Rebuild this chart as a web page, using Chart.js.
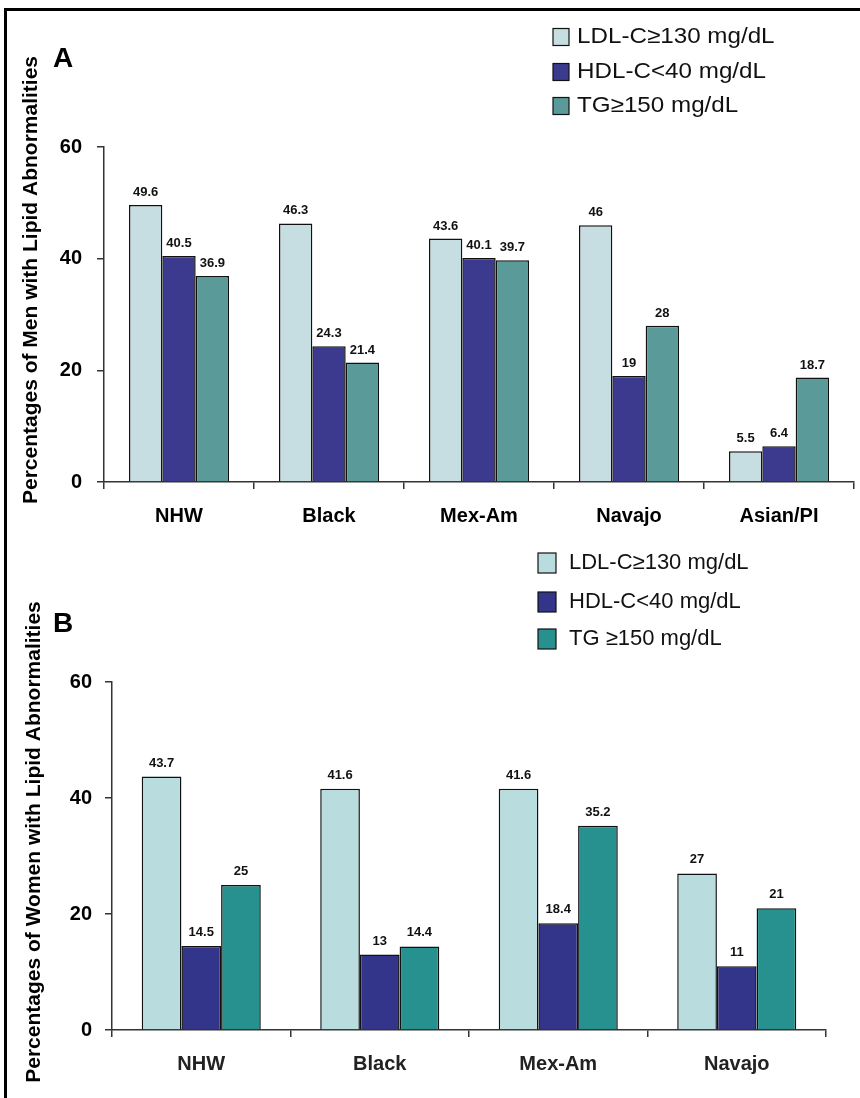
<!DOCTYPE html>
<html lang="en">
<head>
    <meta charset="UTF-8">
    <title>Lipid Abnormalities by Ethnicity</title>
    <script src="https://cdn.jsdelivr.net/npm/chart.js"></script>
    <style>
        body { margin: 0; background: #fff; }
        #page { position: relative; width: 860px; height: 1098px; overflow: hidden; }
        #frame { position: absolute; left: 4px; top: 8px; width: 856px; height: 1090px;
                 border-left: 3px solid #000; border-top: 3px solid #000; box-sizing: border-box; }
        canvas { position: absolute; left: 0; }
    </style>
</head>
<body>
    <div id="page">
        <div id="frame"></div>
        <canvas id="menChart" width="860" height="540" style="top:0;width:860px;height:540px"></canvas>
        <canvas id="womenChart" width="860" height="558" style="top:540px;width:860px;height:558px"></canvas>
    </div>

    <script>
        // Panel A - men
        const menGroups = ['NHW', 'Black', 'Mex-Am', 'Navajo', 'Asian/PI'];
        const menLDL = [49.6, 46.3, 43.6, 46, 5.5];
        const menHDL = [40.5, 24.3, 40.1, 19, 6.4];
        const menTG = [36.9, 21.4, 39.7, 28, 18.7];

        // Panel B - women
        const womenGroups = ['NHW', 'Black', 'Mex-Am', 'Navajo'];
        const womenLDL = [43.7, 41.6, 41.6, 27];
        const womenHDL = [14.5, 13, 18.4, 11];
        const womenTG = [25, 14.4, 35.2, 21];

        const yMin = 0, yMax = 60, yStep = 20;

        const FONT = '"Liberation Sans", Arial, sans-serif';

        // draws value labels, legend, panel letter and y title
        const panelDecor = {
            id: 'panelDecor',
            afterDatasetsDraw(chart, args, o) {
                const ctx = chart.ctx;
                ctx.save();

                ctx.font = `bold ${o.valueSize}px ${FONT}`;
                ctx.fillStyle = '#111';
                ctx.textAlign = 'center';
                ctx.textBaseline = 'alphabetic';
                chart.data.datasets.forEach((ds, i) => {
                    chart.getDatasetMeta(i).data.forEach((bar, j) => {
                        ctx.fillText(String(ds.data[j]), bar.x, bar.y - o.valueGap);
                    });
                });

                // legend, one entry per row
                ctx.textAlign = 'left';
                ctx.textBaseline = 'middle';
                chart.data.datasets.forEach((ds, i) => {
                    const cy = o.legendRows[i];
                    ctx.fillStyle = ds.backgroundColor;
                    ctx.fillRect(o.legendX, cy - o.boxH / 2, o.boxW, o.boxH);
                    ctx.strokeStyle = '#111';
                    ctx.lineWidth = 1.2;
                    ctx.strokeRect(o.legendX, cy - o.boxH / 2, o.boxW, o.boxH);
                    ctx.fillStyle = '#111';
                    ctx.font = `${o.legendSize}px ${FONT}`;
                    ctx.save();
                    ctx.translate(o.textX, cy);
                    ctx.scale(o.stretch, 1);
                    ctx.fillText(ds.label, 0, 0);
                    ctx.restore();
                });

                // panel letter
                ctx.fillStyle = '#000';
                ctx.font = `bold 28px ${FONT}`;
                ctx.textBaseline = 'alphabetic';
                ctx.fillText(o.letter, o.letterX, o.letterY);

                // y title
                ctx.translate(o.titleX, o.titleY);
                ctx.rotate(-Math.PI / 2);
                ctx.textAlign = 'center';
                ctx.textBaseline = 'middle';
                ctx.font = `bold 21px ${FONT}`;
                ctx.fillText(o.title, 0, 0);

                ctx.restore();
            }
        };

        function makeChart(id, groups, series, colors, labels, cfg) {
            return new Chart(document.getElementById(id), {
                type: 'bar',
                data: {
                    labels: groups,
                    datasets: series.map((s, i) => ({
                        label: labels[i],
                        data: s,
                        backgroundColor: colors[i],
                        borderColor: '#111',
                        borderWidth: 1.5,
                        categoryPercentage: 0.667,
                        barPercentage: 1.0
                    }))
                },
                options: {
                    responsive: false,
                    animation: false,
                    devicePixelRatio: 1,
                    layout: { padding: { top: cfg.top, right: cfg.right, bottom: 0, left: 0 } },
                    plugins: {
                        legend: { display: false },
                        tooltip: { enabled: false },
                        panelDecor: cfg.decor
                    },
                    scales: {
                        x: {
                            grid: { display: true, drawOnChartArea: false, offset: true, tickLength: 7, color: '#333', lineWidth: 1.5 },
                            border: { display: true, color: '#333', width: 1.5 },
                            ticks: { color: cfg.xColor, padding: cfg.xPad, font: { family: FONT, size: 20, weight: 'bold' } },
                            afterFit(scale) { scale.height = cfg.xHeight; }
                        },
                        y: {
                            min: yMin, max: yMax,
                            grid: { display: true, drawOnChartArea: false, tickLength: 7, color: '#333', lineWidth: 1.5 },
                            border: { display: true, color: '#333', width: 1.5 },
                            ticks: { stepSize: yStep, color: '#000', padding: cfg.yPad, font: { family: FONT, size: 20, weight: 'bold' } },
                            afterFit(scale) { scale.width = cfg.yWidth; }
                        }
                    }
                },
                plugins: [panelDecor]
            });
        }

        makeChart('menChart', menGroups, [menLDL, menHDL, menTG],
            ['#c6dde1', '#3b3a8f', '#5a9a98'],
            ['LDL-C\u2265130 mg/dL', 'HDL-C<40 mg/dL', 'TG\u2265150 mg/dL'],
            {
                top: 147, right: 6, xHeight: 58, yWidth: 104, xPad: 15, yPad: 15, xColor: '#000',
                decor: {
                    valueSize: 13, valueGap: 9,
                    legendX: 553, textX: 577, boxW: 16, boxH: 17, legendRows: [37, 72, 106],
                    legendSize: 22, stretch: 1.1,
                    letter: 'A', letterX: 53, letterY: 67,
                    title: 'Percentages of Men with Lipid Abnormalities', titleX: 31, titleY: 280
                }
            });

        makeChart('womenChart', womenGroups, [womenLDL, womenHDL, womenTG],
            ['#b9dcde', '#33358a', '#26918e'],
            ['LDL-C\u2265130 mg/dL', 'HDL-C<40 mg/dL', 'TG \u2265150 mg/dL'],
            {
                top: 142, right: 34, xHeight: 68, yWidth: 112, xPad: 15, yPad: 13, xColor: '#222',
                decor: {
                    valueSize: 13, valueGap: 10,
                    legendX: 538, textX: 569, boxW: 18, boxH: 20, legendRows: [23, 62, 99],
                    legendSize: 22, stretch: 1.0,
                    letter: 'B', letterX: 53, letterY: 92,
                    title: 'Percentages of Women with Lipid Abnormalities', titleX: 34, titleY: 302
                }
            });
    </script>
</body>
</html>
